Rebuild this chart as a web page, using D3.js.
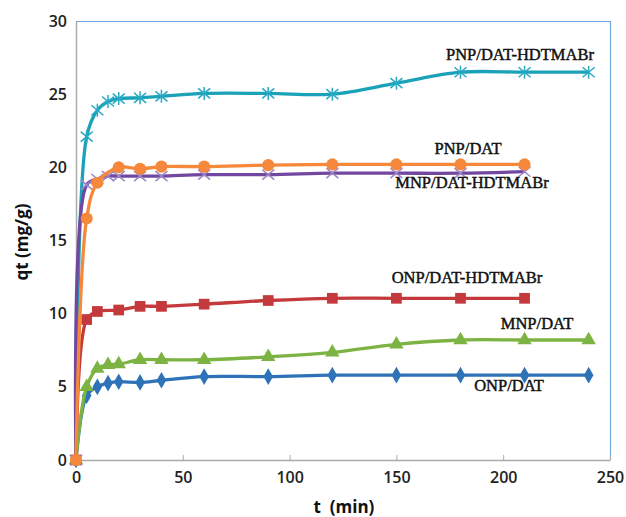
<!DOCTYPE html>
<html>
<head>
<meta charset="utf-8">
<script src="https://cdn.jsdelivr.net/npm/d3@7"></script>
<style>
  body { margin: 0; background: #fff; }
  .tick text { font-family: "Open Sans", sans-serif; font-weight: 600; font-size: 16px; fill: #222; }
  .lbl { font-family: "Liberation Serif", serif; font-size: 16.5px; fill: #111; stroke: #111; stroke-width: 0.45; }
  .ax-title { font-family: "Open Sans", sans-serif; font-weight: 700; font-size: 17px; fill: #111; }
</style>
</head>
<body>
<div id="container"></div>
<script>
var width = 626;
var height = 517;

// data
var onpTime   = [0, 5, 10, 15, 20, 30, 40, 60, 90, 120, 150, 180, 210, 240];
var onpDat    = [0, 4.4, 5.0, 5.25, 5.35, 5.3, 5.45, 5.7, 5.7, 5.8, 5.8, 5.8, 5.8, 5.8];
var mnpTime   = [0, 5, 10, 15, 20, 30, 40, 60, 90, 120, 150, 180, 210, 240];
var mnpDat    = [0, 5.0, 6.25, 6.5, 6.55, 6.85, 6.85, 6.85, 7.05, 7.35, 7.9, 8.2, 8.2, 8.2];
var onpHdTime = [0, 5, 10, 20, 30, 40, 60, 90, 120, 150, 180, 210];
var onpHd     = [0, 9.6, 10.15, 10.25, 10.5, 10.5, 10.65, 10.9, 11.05, 11.05, 11.05, 11.05];
var mnpHdTime = [0, 5, 10, 15, 20, 30, 40, 60, 90, 120, 150, 180, 210];
var mnpHd     = [0, 18.8, 19.2, 19.4, 19.4, 19.4, 19.4, 19.5, 19.5, 19.6, 19.6, 19.6, 19.7];
var pnpTime   = [0, 5, 10, 20, 30, 40, 60, 90, 120, 150, 180, 210];
var pnpDat    = [0, 16.5, 18.95, 20.0, 19.9, 20.05, 20.05, 20.15, 20.2, 20.2, 20.2, 20.2];
var pnpHdTime = [0, 5, 10, 15, 20, 30, 40, 60, 90, 120, 150, 180, 210, 240];
var pnpHd     = [0, 22.1, 23.9, 24.5, 24.7, 24.75, 24.85, 25.05, 25.05, 25.0, 25.75, 26.5, 26.5, 26.5];

var xTicks = [0, 50, 100, 150, 200, 250];
var yTicks = [0, 5, 10, 15, 20, 25, 30];

var series = [
  { name: "PNP/DAT-HDTMABr", t: pnpHdTime, q: pnpHd, color: "#1aa2b8", mark: "#29a9c4", shape: "star" },
  { name: "ONP/DAT", t: onpTime, q: onpDat, color: "#2e73b8", mark: "#2e73b8", shape: "diamond" },
  { name: "MNP/DAT", t: mnpTime, q: mnpDat, color: "#7cb342", mark: "#7cb342", shape: "triangle" },
  { name: "ONP/DAT-HDTMABr", t: onpHdTime, q: onpHd, color: "#c4393b", mark: "#c4393b", shape: "square" },
  { name: "MNP/DAT-HDTMABr", t: mnpHdTime, q: mnpHd, color: "#7147a0", mark: "#9c86c6", shape: "cross" },
  { name: "PNP/DAT", t: pnpTime, q: pnpDat, color: "#f5883a", mark: "#f5883a", shape: "circle" }
];

var labels = [
  { text: "PNP/DAT-HDTMABr", x: 520, y: 60 },
  { text: "PNP/DAT", x: 468, y: 154 },
  { text: "MNP/DAT-HDTMABr", x: 472, y: 188 },
  { text: "ONP/DAT-HDTMABr", x: 467, y: 283 },
  { text: "MNP/DAT", x: 537, y: 329 },
  { text: "ONP/DAT", x: 509, y: 391 }
];

var svg = d3.select("div#container").append("svg")
    .attr("width", width)
    .attr("height", height);

var x = d3.scaleLinear().domain([0, 250]).range([76, 610]);
var y = d3.scaleLinear().domain([0, 30]).range([460, 21]);

// frame (light blue top/right)
svg.append("path")
    .attr("d", "M" + x(0) + "," + (y(30) + 0.5) + "H" + (x(250) + 0.5) + "V" + y(0))
    .attr("fill", "none")
    .attr("stroke", "#6fa8dc")
    .attr("stroke-width", 1.2);

// axes
var xAxis = svg.append("g")
    .attr("transform", "translate(0," + y(0) + ")")
    .call(d3.axisBottom(x).tickValues(xTicks).tickSize(0).tickPadding(12));
xAxis.select(".domain").attr("stroke", "#aaa").attr("stroke-width", 1.5);
xAxis.selectAll(".tick").filter(function(d) { return d > 0; })
    .append("line").attr("y1", 0).attr("y2", -5).attr("stroke", "#aaa");

var yAxis = svg.append("g")
    .attr("transform", "translate(" + x(0) + ",0)")
    .call(d3.axisLeft(y).tickValues(yTicks).tickSize(0).tickPadding(9));
yAxis.select(".domain").attr("stroke", "#aaa").attr("stroke-width", 1.5);

svg.append("text")
    .attr("class", "ax-title")
    .attr("transform", "translate(28,242) rotate(-90)")
    .attr("text-anchor", "middle")
    .text("qt (mg/g)");

svg.append("text")
    .attr("class", "ax-title")
    .attr("x", 344)
    .attr("y", 513)
    .attr("text-anchor", "middle")
    .attr("xml:space", "preserve")
    .style("white-space", "pre")
    .text("t  (min)");

var line = d3.line()
    .x(function(d) { return x(d[0]); })
    .y(function(d) { return y(d[1]); })
    .curve(d3.curveCatmullRom.alpha(0.5));

function markPath(shape) {
  if (shape === "diamond") return d3.symbol().type(d3.symbolDiamond).size(80)();
  if (shape === "triangle") return d3.symbol().type(d3.symbolTriangle).size(90)();
  if (shape === "square") return d3.symbol().type(d3.symbolSquare).size(115)();
  if (shape === "circle") return d3.symbol().type(d3.symbolCircle).size(115)();
  if (shape === "cross") return "M-6,-5L6,5M-6,5L6,-5";
  return "M-6,-5L6,5M-6,5L6,-5M0,-6.5V6.5";
}

series.forEach(function(s) {
  var pts = s.t.map(function(t, i) { return [t, s.q[i]]; });
  var g = svg.append("g");
  g.append("path")
      .attr("d", line(pts))
      .attr("fill", "none")
      .attr("stroke", s.color)
      .attr("stroke-width", 3.3);
  var stroked = s.shape === "star" || s.shape === "cross";
  g.selectAll("path.m")
      .data(pts)
      .enter()
      .append("path")
      .attr("class", "m")
      .attr("transform", function(d) { return "translate(" + x(d[0]) + "," + y(d[1]) + ")"; })
      .attr("d", markPath(s.shape))
      .attr("fill", stroked ? "none" : s.mark)
      .attr("stroke", stroked ? s.mark : "none")
      .attr("stroke-width", 1.5);
});

svg.selectAll("text.lbl")
    .data(labels)
    .enter()
    .append("text")
    .attr("class", "lbl")
    .attr("x", function(d) { return d.x; })
    .attr("y", function(d) { return d.y; })
    .attr("text-anchor", "middle")
    .text(function(d) { return d.text; });
</script>
</body>
</html>
